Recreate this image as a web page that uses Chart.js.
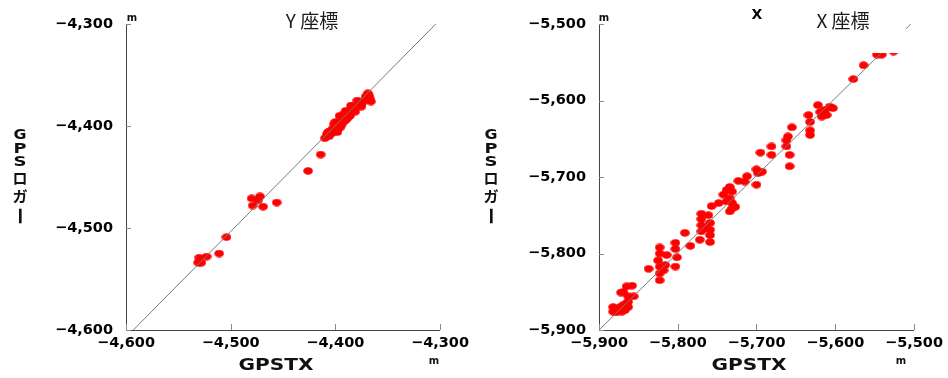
<!DOCTYPE html>
<html><head><meta charset="utf-8">
<script src="https://cdn.jsdelivr.net/npm/chart.js@4/dist/chart.umd.min.js"></script>
<style>
html,body{margin:0;padding:0;background:#fff;}
#wrap{position:relative;width:948px;height:378px;overflow:hidden;}
canvas{position:absolute;top:0;}
#cY{left:0}#cX{left:474px}
</style></head><body>
<div id="wrap"><canvas id="cY" width="474" height="378"></canvas><canvas id="cX" width="474" height="378"></canvas></div>
<script>
// ---- texts ----
const titleY = 'Y 座標';
const titleX = 'X 座標';
const titleXExtra = 'X';
const axisTitleX = 'GPSTX';
const axisTitleY = ['G','P','S','ロ','ガ','ー'];
const unitLabel = 'm';

// ---- ticks ----
const yChartTicks = [-4600, -4500, -4400, -4300];
const xChartTicks = [-5900, -5800, -5700, -5600, -5500];

// ---- Y 座標 data (GPSTX, GPSロガー) ----
const yGpstx  = [-4530,-4531,-4528,-4523,-4530,-4511,-4504,-4480,-4472,-4479,-4469,-4474,-4456,-4426,-4414,
  -4410,-4408,-4406,-4405,-4403,-4402,-4400,-4399,-4397,-4396,-4394,-4393,-4391,-4390,-4389,-4388,-4386,-4385,
  -4383,-4381,-4379,-4377,-4375,-4373,-4371,-4370,-4368,-4367,-4366,-4369,-4371,-4390,-4395,-4392,-4385,-4398,-4401,
  -4407,-4400,-4390,-4384,-4396,-4379,-4393,-4387,-4381,-4396,-4375];
const yLogger = [-4529,-4534,-4534,-4528,-4533,-4525,-4509,-4471,-4469,-4478,-4479,-4473,-4475,-4444,-4428,
  -4412,-4408,-4410,-4405,-4407,-4402,-4404,-4399,-4401,-4396,-4398,-4393,-4395,-4391,-4393,-4388,-4390,-4386,
  -4384,-4382,-4380,-4378,-4378,-4376,-4374,-4372,-4370,-4373,-4376,-4368,-4371,-4387,-4400,-4388,-4380,-4406,-4398,
  -4406,-4396,-4385,-4380,-4390,-4375,-4396,-4390,-4386,-4402,-4381];
const yRefX = [-4593, -4304];
const yRefY = [-4600, -4300];

// ---- X 座標 data (GPSTX, GPSロガー) ----
const xGpstx  = [-5882,-5882,-5878,-5873,-5869,-5865,-5863,-5871,-5878,-5863,-5869,-5865,-5858,-5856,-5863,-5872,-5867,
  -5837,-5823,-5823,-5825,-5823,-5823,-5823,-5816,-5814,-5803,-5803,-5801,-5803,-5818,
  -5791,-5784,-5770,-5770,-5770,-5770,-5772,-5761,-5759,-5759,-5759,-5759,-5765,-5757,-5748,
  -5742,-5738,-5734,-5731,-5734,-5731,-5731,-5734,-5738,-5727,-5723,-5712,-5715,-5700,-5698,-5693,-5700,
  -5695,-5681,-5681,-5662,-5660,-5662,-5658,-5658,-5655,-5634,-5632,-5632,-5632,-5622,-5619,-5617,-5613,-5607,-5603,-5611,
  -5577,-5564,-5547,-5541,-5526];
const xLogger = [-5870,-5876,-5872,-5870,-5867,-5865,-5870,-5876,-5877,-5863,-5850,-5843,-5842,-5856,-5856,-5851,-5874,
  -5820,-5792,-5800,-5809,-5817,-5826,-5835,-5815,-5802,-5786,-5794,-5805,-5817,-5822,
  -5773,-5790,-5748,-5755,-5763,-5771,-5782,-5750,-5760,-5769,-5776,-5785,-5767,-5738,-5734,
  -5723,-5717,-5713,-5719,-5728,-5734,-5741,-5745,-5732,-5739,-5705,-5699,-5706,-5710,-5695,-5693,-5690,
  -5668,-5660,-5671,-5652,-5647,-5660,-5671,-5686,-5635,-5619,-5628,-5639,-5645,-5606,-5615,-5621,-5612,-5608,-5610,-5619,
  -5572,-5554,-5540,-5540,-5536];
const xRefX = [-5900, -5504];
const xRefY = [-5900, -5500];

// ---- helpers ----
function makeDot(){
  const c = document.createElement('canvas'); c.width = 10; c.height = 8;
  const g = c.getContext('2d'); g.fillStyle = '#ff0000';
  g.beginPath(); g.ellipse(5, 4, 4.8, 3.8, 0, 0, Math.PI*2); g.fill();
  return c;
}
const dot = makeDot();
const fmt = v => (v < 0 ? '\u2212' : '') + Math.abs(v).toLocaleString('en-US');
const pts = (xs, ys) => xs.map((x, i) => ({x, y: ys[i]}));

function stretchText(ctx, txt, cx, cy, targetW, font){
  ctx.save(); ctx.font = font;
  const w = ctx.measureText(txt).width;
  ctx.translate(cx, cy); ctx.scale(targetW / w, 1);
  ctx.textAlign = 'center'; ctx.textBaseline = 'middle';
  ctx.fillText(txt, 0, 0); ctx.restore();
}

const decor = {
  id: 'decor',
  afterDatasetsDraw(chart, args, o){
    const ctx = chart.ctx;
    if (o.whiteBox){
      ctx.save(); ctx.fillStyle = '#fff';
      ctx.fillRect(...o.whiteBox); ctx.restore();
    }
  },
  afterDraw(chart, args, o){
    const ctx = chart.ctx, a = chart.chartArea;
    const sx = chart.scales.x, sy = chart.scales.y;
    ctx.save();
    ctx.strokeStyle = '#8a8a8a'; ctx.lineWidth = 1;
    sx.ticks.forEach(t => { const px = Math.round(sx.getPixelForValue(t.value)) + 0.5;
      ctx.beginPath(); ctx.moveTo(px, a.bottom); ctx.lineTo(px, a.bottom - 6); ctx.stroke(); });
    sy.ticks.forEach(t => { const py = Math.round(sy.getPixelForValue(t.value)) + 0.5;
      ctx.beginPath(); ctx.moveTo(a.left, py); ctx.lineTo(a.left + 5, py); ctx.stroke(); });
    ctx.fillStyle = '#111';
    ctx.font = 'bold 10px "DejaVu Sans"'; ctx.textAlign = 'center'; ctx.textBaseline = 'middle';
    ctx.fillText(unitLabel, o.unitTop[0], o.unitTop[1]);
    ctx.fillText(unitLabel, o.unitBottom[0], o.unitBottom[1]);
    ctx.fillStyle = '#1a1a1a';
    ctx.font = '19px "Noto Sans CJK JP"';
    ctx.fillText(o.title, o.titlePos[0], o.titlePos[1]);
    if (o.extra){ ctx.fillStyle = '#000'; ctx.font = 'bold 14px "DejaVu Sans"'; ctx.fillText(o.extra, o.extraPos[0], o.extraPos[1]); }
    ctx.fillStyle = '#111';
    stretchText(ctx, axisTitleX, o.xTitlePos[0], o.xTitlePos[1], 75, 'bold 16px "DejaVu Sans"');
    const ys = [135, 149, 162, 178, 196, 216];
    axisTitleY.forEach((ch, i) => {
      if (i < 3){ stretchText(ctx, ch, o.yTitleX, ys[i], 13, 'bold 14px "DejaVu Sans"'); }
      else if (ch === 'ー'){
        ctx.save(); ctx.translate(o.yTitleX, ys[i]); ctx.rotate(Math.PI/2);
        ctx.font = 'bold 18px "Noto Sans CJK JP"'; ctx.textAlign='center'; ctx.textBaseline='middle';
        ctx.fillText(ch, 0, 0); ctx.restore();
      } else {
        ctx.font = 'bold 15px "Noto Sans CJK JP"'; ctx.textAlign='center'; ctx.textBaseline='middle';
        ctx.fillText(ch, o.yTitleX, ys[i]);
      }
    });
    ctx.restore();
  }
};

function makeChart(id, xs, ys, rx, ry, ticksArr, yWidth, padRight, dec){
  const tickFont = {family: 'DejaVu Sans', weight: 'bold', size: 14.5};
  const axis = (horiz) => ({
    type: 'linear', min: ticksArr[0], max: ticksArr[ticksArr.length-1],
    afterBuildTicks: s => { s.ticks = ticksArr.map(v => ({value: v})); },
    ticks: {callback: fmt, font: tickFont, color: '#000', padding: horiz ? 5 : 13, maxRotation: 0, autoSkip: false},
    grid: {display: false, drawTicks: false},
    border: {display: true, color: '#444', width: 1},
    afterFit: horiz ? (s => { s.height = 48; }) : (s => { s.width = yWidth; })
  });
  return new Chart(document.getElementById(id), {
    type: 'scatter',
    data: {datasets: [
      {type: 'line', data: pts(rx, ry), borderColor: '#7a7a7a', borderWidth: 1, pointRadius: 0, fill: false, order: 0},
      {data: pts(xs, ys), pointStyle: dot, pointRadius: 5, order: 1}
    ]},
    options: {
      responsive: false, animation: false, events: [],
      layout: {padding: {left: 0, top: 24, right: padRight, bottom: 0}},
      plugins: {legend: {display: false}, tooltip: {enabled: false}, decor: dec},
      scales: {x: axis(true), y: axis(false)}
    },
    plugins: [decor]
  });
}

makeChart('cY', yGpstx, yLogger, yRefX, yRefY, yChartTicks, 126, 33, {
  title: titleY, titlePos: [312, 21], unitTop: [132, 18], unitBottom: [434, 361],
  xTitlePos: [276, 366], yTitleX: 20, whiteBox: null
});
makeChart('cX', xGpstx, xLogger, xRefX, xRefY, xChartTicks, 125, 34, {
  title: titleX, titlePos: [369, 21], extra: titleXExtra, extraPos: [283, 15],
  unitTop: [130, 18], unitBottom: [427, 361], xTitlePos: [275, 366], yTitleX: 17,
  whiteBox: [146, 0, 286, 53]
});
</script>
</body></html>
